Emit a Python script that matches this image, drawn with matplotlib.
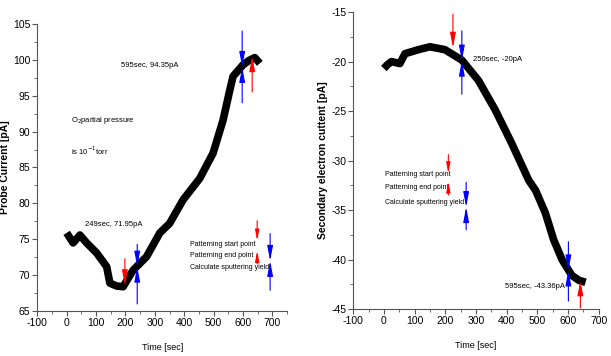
import matplotlib
matplotlib.use("Agg")
import matplotlib.pyplot as plt
from matplotlib.ticker import MultipleLocator

plt.rcParams['font.family'] = ['Liberation Sans', 'DejaVu Sans']
plt.rcParams['axes.unicode_minus'] = False

# left panel: probe current
probe_t = [0, 22, 45, 68, 102, 136, 147, 170, 192, 226, 272, 317, 350, 396,
           453, 498, 532, 555, 566, 600, 620, 640, 657]
probe_i = [75.9, 74.5, 75.6, 74.5, 73.1, 71.2, 68.9, 68.5, 68.4, 70.7, 72.6,
           75.9, 77.2, 80.5, 83.5, 87.0, 91.6, 95.8, 97.7, 99.3, 99.9, 100.3, 99.5]

# right panel: secondary electron current
sec_t = [0, 12, 25, 52, 69, 112, 150, 199, 254, 308, 363, 417, 472, 494,
         526, 553, 581, 612, 635, 657]
sec_i = [-20.7, -20.3, -20.0, -20.2, -19.2, -18.8, -18.5, -18.8, -19.85, -21.9,
         -24.9, -28.3, -32.0, -33.0, -35.3, -38.0, -40.05, -41.6, -42.1, -42.3]

fig = plt.figure(figsize=(6.11, 3.56), dpi=100)
ax1 = fig.add_axes([0.061, 0.126, 0.409, 0.807])
ax2 = fig.add_axes([0.578, 0.132, 0.402, 0.834])

RED = '#ff0000'
BLUE = '#0000ff'


def arrow(ax, x0, y0, x1, y1, color, lw=0.8, ms=10):
    ax.annotate('', xy=(x1, y1), xytext=(x0, y0),
                arrowprops=dict(arrowstyle='-|>,head_length=0.9,head_width=0.17',
                                color=color, lw=lw,
                                mutation_scale=ms, shrinkA=0, shrinkB=0))


def pinch(ax, x, ytop, ymid, ybot, ms=10):
    arrow(ax, x, ytop, x, ymid, BLUE, ms=ms)
    arrow(ax, x, ybot, x, ymid, BLUE, ms=ms)


def style(ax):
    for s in ['top', 'right']:
        ax.spines[s].set_visible(False)
    ax.spines['left'].set_color('#555555')
    ax.spines['bottom'].set_color('#555555')
    ax.xaxis.set_major_locator(MultipleLocator(100))
    ax.xaxis.set_minor_locator(MultipleLocator(50))
    ax.tick_params(which='both', direction='out', labelsize=7.5, color='#555555',
                   pad=1.5)
    ax.tick_params(which='major', length=3.5)
    ax.tick_params(which='minor', length=2)
    ax.set_xlabel('Time [sec]', fontsize=6.5, labelpad=11)


# ---- left
ax1.plot(probe_t, probe_i, color='black', lw=5.5, solid_capstyle='butt')
ax1.set_xlim(-100, 750)
ax1.set_ylim(65, 105)
ax1.yaxis.set_major_locator(MultipleLocator(5))
ax1.yaxis.set_minor_locator(MultipleLocator(2.5))
style(ax1)
ax1.set_xticks(range(-100, 701, 100))
ax1.set_ylabel('Probe Current [pA]', fontsize=7.5, fontweight='bold', labelpad=2)

ax1.text(283, 99.2, '595sec, 94.35pA', fontsize=5.5, ha='center', va='center')
ax1.text(15, 91.5, r'O$_2$partial pressure', fontsize=5.5, va='center')
ax1.text(15, 87.3, r'is 10$^{-1}$torr', fontsize=5.5, va='center')
ax1.text(160, 77.1, '249sec, 71.95pA', fontsize=5.5, ha='center', va='center')
ax1.text(420, 74.3, 'Patterning start point', fontsize=5, va='center')
ax1.text(420, 72.7, 'Patterning end point', fontsize=5, va='center')
ax1.text(420, 71.1, 'Calculate sputtering yield', fontsize=5, va='center')

arrow(ax1, 648, 77.6, 648, 74.8, RED, ms=7)
arrow(ax1, 648, 71.6, 648, 73.4, RED, ms=7)
pinch(ax1, 692, 75.8, 72.0, 67.9)

arrow(ax1, 198, 72.3, 198, 68.6, RED)
pinch(ax1, 240, 74.3, 71.2, 66.0)
pinch(ax1, 597, 104.0, 99.0, 94.0)
arrow(ax1, 631, 95.5, 631, 100.5, RED)

# ---- right
ax2.plot(sec_t, sec_i, color='black', lw=5.5, solid_capstyle='butt')
ax2.set_xlim(-100, 700)
ax2.set_ylim(-45, -15)
ax2.yaxis.set_major_locator(MultipleLocator(5))
ax2.yaxis.set_minor_locator(MultipleLocator(2.5))
style(ax2)
ax2.set_ylabel('Secondary electron cuttent [pA]', fontsize=7.5, fontweight='bold',
               labelpad=2)

ax2.text(290, -19.8, '250sec, -20pA', fontsize=5.5, va='center')
ax2.text(395, -42.7, '595sec, -43.36pA', fontsize=5.5, va='center')
ax2.text(5, -31.4, 'Patterning start point', fontsize=5, va='center')
ax2.text(5, -32.7, 'Patterning end point', fontsize=5, va='center')
ax2.text(5, -34.2, 'Calculate sputtering yield', fontsize=5, va='center')

arrow(ax2, 210, -29.4, 210, -31.3, RED, ms=7)
arrow(ax2, 210, -33.5, 210, -32.1, RED, ms=7)
pinch(ax2, 268, -32.2, -34.7, -37.0)

arrow(ax2, 225, -15.2, 225, -18.6, RED)
pinch(ax2, 254, -16.9, -19.9, -23.3)
pinch(ax2, 601, -38.2, -41.1, -44.2)
arrow(ax2, 640, -44.9, 640, -42.1, RED)

fig.savefig('out.png', dpi=100)
